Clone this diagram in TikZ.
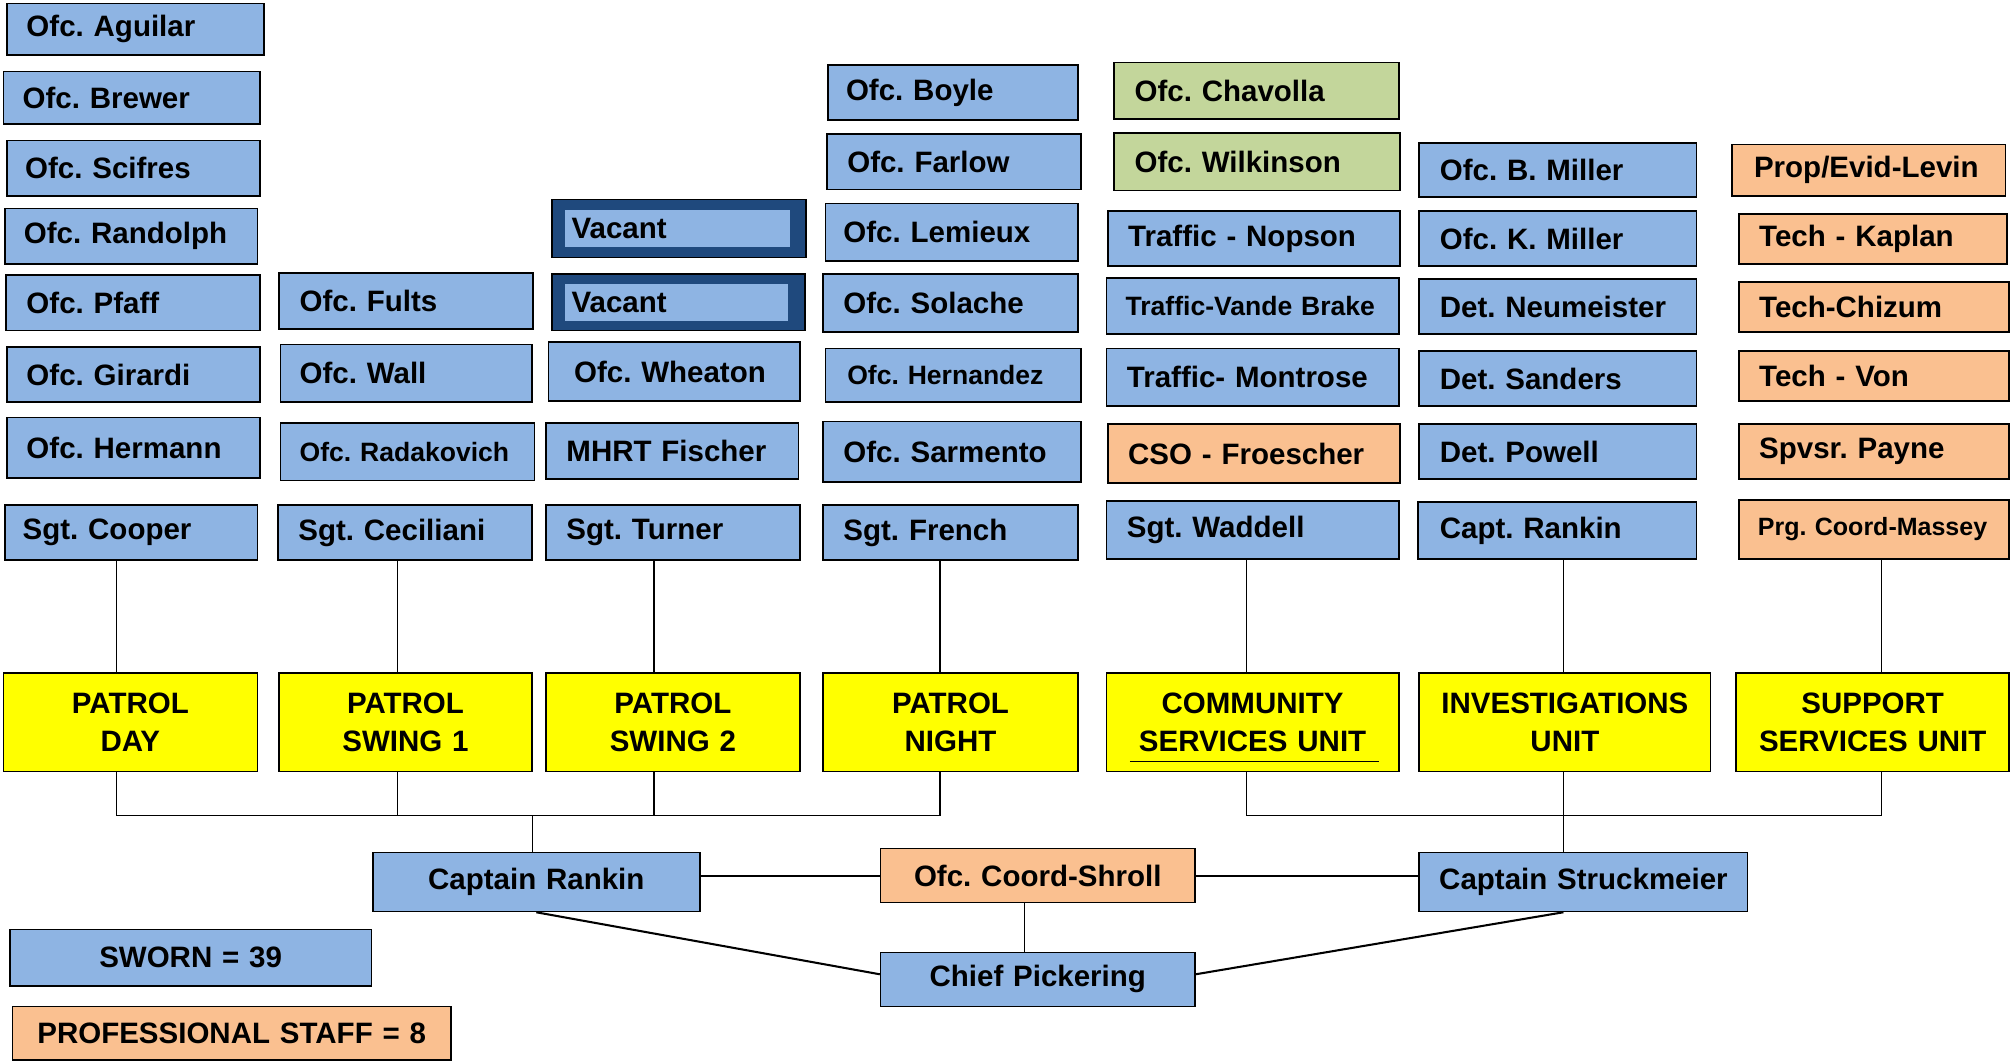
\documentclass[tikz,border=0pt]{standalone}
\usepackage{fontspec}
\setmainfont{Liberation Sans}
\definecolor{blueF}{RGB}{142,180,227}
\definecolor{navyF}{RGB}{31,73,125}
\definecolor{greenF}{RGB}{195,214,155}
\definecolor{orangeF}{RGB}{250,192,144}
\definecolor{yellowF}{RGB}{255,255,0}
\tikzset{
  bx/.style={draw=black, line width=1.3pt, inner ysep=0pt, align=left,
    font=\fontsize{23}{27}\selectfont\bfseries\frenchspacing},
  bluebox/.style={bx, fill=blueF},
  greenbox/.style={bx, fill=greenF},
  orangebox/.style={bx, fill=orangeF},
  navybox/.style={bx, fill=navyF},
  innerbox/.style={bx, draw=none, fill=blueF},
  unitbox/.style={bx, fill=yellowF, align=center, font=\fontsize{23}{30}\selectfont\bfseries},
  ctr/.style={align=center},
  smallf/.style={font=\fontsize{20.7}{24}\selectfont\bfseries\frenchspacing},
  smallerf/.style={font=\fontsize{19.5}{23}\selectfont\bfseries\frenchspacing},
  conn/.style={draw=black, line width=1.1pt},
  connb/.style={draw=black, line width=1.6pt},
}
\newcommand{\ob}[8]{%
  \pgfmathsetmacro\obw{#4-#2}%
  \pgfmathsetmacro\obh{#5-#3}%
  \pgfmathsetmacro\obt{#4-#2-2*#7}%
  \node[#6, anchor=north west, minimum width=\obw pt, minimum height=\obh pt,
    inner xsep=#7pt, text width=\obt pt] (#1) at (#2,#3) {#8};}
\begin{document}
\frenchspacing
\begin{tikzpicture}[x=1pt,y=-1pt]
\useasboundingbox (0,0) rectangle (1568,827);
% column 1
\ob{aguilar}{5}{2}{205}{42}{bluebox}{15}{Ofc. Aguilar}
\ob{brewer}{2}{55}{202}{96}{bluebox}{15}{Ofc. Brewer}
\ob{scifres}{5}{109}{202}{152}{bluebox}{14}{Ofc. Scifres}
\ob{randolph}{3}{162}{200}{205}{bluebox}{15}{Ofc. Randolph}
\ob{pfaff}{4}{214}{202}{257}{bluebox}{16}{Ofc. Pfaff}
\ob{girardi}{5}{270}{202}{313}{bluebox}{15}{Ofc. Girardi}
\ob{hermann}{5}{325}{202}{372}{bluebox}{15}{Ofc. Hermann}
\ob{cooper}{3}{393}{200}{436}{bluebox}{14}{Sgt. Cooper}
\ob{pday}{2}{524}{200}{601}{unitbox}{4}{PATROL\\DAY}
% column 2
\ob{fults}{217}{212}{415}{256}{bluebox}{16}{Ofc. Fults}
\ob{wall}{218}{268}{414}{313}{bluebox}{15}{Ofc. Wall}
\ob{radakovich}{218}{329}{416}{374}{bluebox,smallf}{15}{Ofc. Radakovich}
\ob{ceciliani}{216}{393}{414}{436}{bluebox}{16}{Sgt. Ceciliani}
\ob{swingone}{217}{524}{414}{601}{unitbox}{4}{PATROL\\SWING 1}
% column 3
\ob{vacantA}{430}{155}{628}{200}{navybox}{4}{}
\ob{vacantAin}{440}{163}{615}{192}{innerbox}{5}{Vacant}
\ob{vacantB}{430}{213}{627}{257}{navybox}{4}{}
\ob{vacantBin}{440}{221}{614}{250}{innerbox}{5}{Vacant}
\ob{wheaton}{427}{266}{623}{312}{bluebox}{20}{Ofc. Wheaton}
\ob{fischer}{425}{329}{622}{373}{bluebox}{16}{MHRT Fischer}
\ob{turner}{425}{393}{623}{436}{bluebox}{16}{Sgt. Turner}
\ob{swingtwo}{425}{524}{623}{601}{unitbox}{4}{PATROL\\SWING 2}
% column 4
\ob{boyle}{645}{50}{840}{93}{bluebox}{14}{Ofc. Boyle}
\ob{farlow}{644}{104}{842}{147}{bluebox}{16}{Ofc. Farlow}
\ob{lemieux}{643}{158}{840}{203}{bluebox}{14}{Ofc. Lemieux}
\ob{solache}{641}{213}{840}{258}{bluebox}{16}{Ofc. Solache}
\ob{hernandez}{643}{271}{842}{313}{bluebox,smallf}{17}{Ofc. Hernandez}
\ob{sarmento}{641}{328}{842}{375}{bluebox}{16}{Ofc. Sarmento}
\ob{french}{641}{393}{840}{436}{bluebox}{16}{Sgt. French}
\ob{pnight}{641}{524}{840}{601}{unitbox}{4}{PATROL\\NIGHT}
% column 5
\ob{chavolla}{868}{48}{1090}{92}{greenbox}{16}{Ofc. Chavolla}
\ob{wilkinson}{868}{103}{1091}{148}{greenbox}{16}{Ofc. Wilkinson}
\ob{nopson}{863}{164}{1091}{207}{bluebox}{16}{Traffic - Nopson}
\ob{vande}{862}{216}{1090}{260}{bluebox,smallf}{15}{Traffic-Vande Brake}
\ob{montrose}{862}{271}{1090}{316}{bluebox}{16}{Traffic- Montrose}
\ob{froescher}{863}{330}{1091}{376}{orangebox}{16}{CSO - Froescher}
\ob{waddell}{862}{390}{1090}{435}{bluebox}{16}{Sgt. Waddell}
\ob{csu}{862}{524}{1090}{601}{unitbox}{4}{COMMUNITY\\SERVICES UNIT}
% column 6
\ob{bmiller}{1106}{111}{1322}{153}{bluebox}{16}{Ofc. B. Miller}
\ob{kmiller}{1106}{164}{1322}{207}{bluebox}{16}{Ofc. K. Miller}
\ob{neumeister}{1106}{217}{1322}{260}{bluebox}{16}{Det. Neumeister}
\ob{sanders}{1106}{273}{1322}{316}{bluebox}{16}{Det. Sanders}
\ob{powell}{1106}{330}{1322}{373}{bluebox}{16}{Det. Powell}
\ob{captrankin}{1105}{391}{1322}{435}{bluebox}{17}{Capt. Rankin}
\ob{inv}{1106}{524}{1333}{601}{unitbox}{4}{INVESTIGATIONS\\UNIT}
% column 7
\ob{levin}{1350}{112}{1563}{152}{orangebox}{17}{Prop/Evid-Levin}
\ob{kaplan}{1355}{166}{1564}{205}{orangebox}{16}{Tech - Kaplan}
\ob{chizum}{1355}{219}{1566}{258}{orangebox}{16}{Tech-Chizum}
\ob{von}{1355}{273}{1566}{312}{orangebox}{16}{Tech - Von}
\ob{payne}{1355}{330}{1566}{373}{orangebox}{16}{Spvsr. Payne}
\ob{massey}{1355}{389}{1566}{435}{orangebox,smallerf}{15}{Prg. Coord-Massey}
\ob{ssu}{1353}{524}{1566}{601}{unitbox}{4}{SUPPORT\\SERVICES UNIT}
% bottom
\ob{caprankin}{290}{664}{545}{710}{bluebox,ctr}{4}{Captain Rankin}
\ob{shroll}{686}{661}{931}{703}{orangebox,ctr}{4}{Ofc. Coord-Shroll}
\ob{struck}{1106}{664}{1362}{710}{bluebox,ctr}{4}{Captain Struckmeier}
\ob{chief}{686}{742}{931}{784}{bluebox,ctr}{4}{Chief Pickering}
\ob{sworn}{7}{724}{289}{768}{bluebox,ctr}{4}{SWORN = 39}
\ob{prof}{9}{784}{351}{826}{orangebox,ctr}{4}{PROFESSIONAL STAFF = 8}
% underline inside community services unit
\draw[line width=0.8pt] (881,594) -- (1075,594);
% connector columns
\coordinate (xa) at (91,0);
\coordinate (xb) at (310,0);
\coordinate (xc) at (510,0);
\coordinate (xd) at (733,0);
\coordinate (xe) at (972,0);
\coordinate (xf) at (1219,0);
\coordinate (xg) at (1467,0);
\coordinate (xs) at (799,0);
\coordinate (bus) at (0,636);
\draw[conn] (cooper.south -| xa) -- (pday.north -| xa);
\draw[conn] (ceciliani.south -| xb) -- (swingone.north -| xb);
\draw[conn] (turner.south -| xc) -- (swingtwo.north -| xc);
\draw[conn] (french.south -| xd) -- (pnight.north -| xd);
\draw[conn] (waddell.south -| xe) -- (csu.north -| xe);
\draw[conn] (captrankin.south -| xf) -- (inv.north -| xf);
\draw[conn] (massey.south -| xg) -- (ssu.north -| xg);
\draw[conn] (pday.south -| xa) -- (xa |- bus) -- (xd |- bus) -- (pnight.south -| xd);
\draw[conn] (swingone.south -| xb) -- (xb |- bus);
\draw[conn] (swingtwo.south -| xc) -- (xc |- bus);
\draw[conn] (caprankin.north -| 415,0) -- (415,636);
\draw[conn] (csu.south -| xe) -- (xe |- bus) -- (xg |- bus) -- (ssu.south -| xg);
\draw[conn] (inv.south -| xf) -- (struck.north -| xf);
\draw[connb] (caprankin.east |- shroll.west) -- (shroll.west);
\draw[connb] (shroll.east) -- (shroll.east -| struck.west);
\draw[conn] (shroll.south -| xs) -- (chief.north -| xs);
\draw[connb] (caprankin.south) -- ([yshift=4pt]chief.west);
\draw[connb] (struck.south -| xf) -- ([yshift=4pt]chief.east);
\end{tikzpicture}
\end{document}
